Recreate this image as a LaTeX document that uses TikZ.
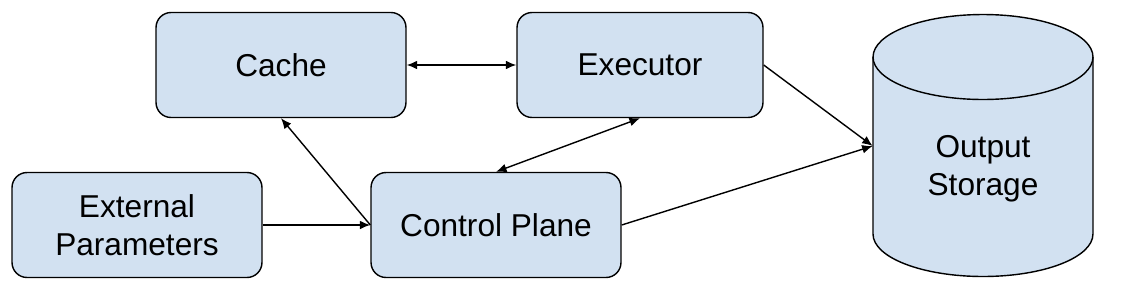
\documentclass[tikz,border=0pt]{standalone}
\usepackage{fontspec}
\setmainfont{Liberation Sans}
\usetikzlibrary{arrows.meta}
\definecolor{boxblue}{HTML}{D2E1F1}

\begin{document}
\begin{tikzpicture}[
x=0.02cm,y=-0.02cm,
font=\fontsize{18}{21.5}\selectfont,
block/.style={rectangle,rounded corners=0.3cm,draw=black,fill=boxblue,line width=0.8pt,minimum width=5cm,minimum height=2.1cm,inner sep=0pt,align=center},
storebox/.style={rectangle,minimum width=4.4cm,minimum height=5.24cm,inner sep=0pt},
drum/.style={draw=black,fill=boxblue,line width=0.8pt},
link/.style={-{Latex[length=6pt,width=5pt]},line width=0.8pt},
both/.style={{Latex[length=6pt,width=5pt]}-{Latex[length=6pt,width=5pt]},line width=0.8pt}
]
\useasboundingbox (0,0) rectangle (1132,288);

% storage drum
\path[drum] (873,57) -- (873,234) arc[start angle=180,end angle=360,x radius=2.2cm,y radius=0.85cm]
  -- (1093,57) arc[start angle=0,end angle=180,x radius=2.2cm,y radius=0.85cm] -- cycle;
\draw[line width=0.8pt] (873,57) arc[start angle=180,end angle=360,x radius=2.2cm,y radius=0.85cm];

\node[block] (cache) at (281,65) {Cache};
\node[block,minimum width=4.92cm] (exec) at (640,65) {Executor};
\node[block] (params) at (137,225) {External\\Parameters};
\node[block] (control) at (496,225) {Control Plane};
\node[storebox,label={[align=center,yshift=-0.46cm]center:Output\\Storage}] (output) at (983,146) {};

\draw[both] (cache.east) -- (exec.west);
\draw[link] (control.west) -- (cache.south);
\draw[link] (params.east) -- (control.west);
\draw[both] (control.north) -- (exec.south);
\draw[link] (exec.east) -- (output.west);
\draw[link] (control.east) -- (output.west);

\end{tikzpicture}
\end{document}
